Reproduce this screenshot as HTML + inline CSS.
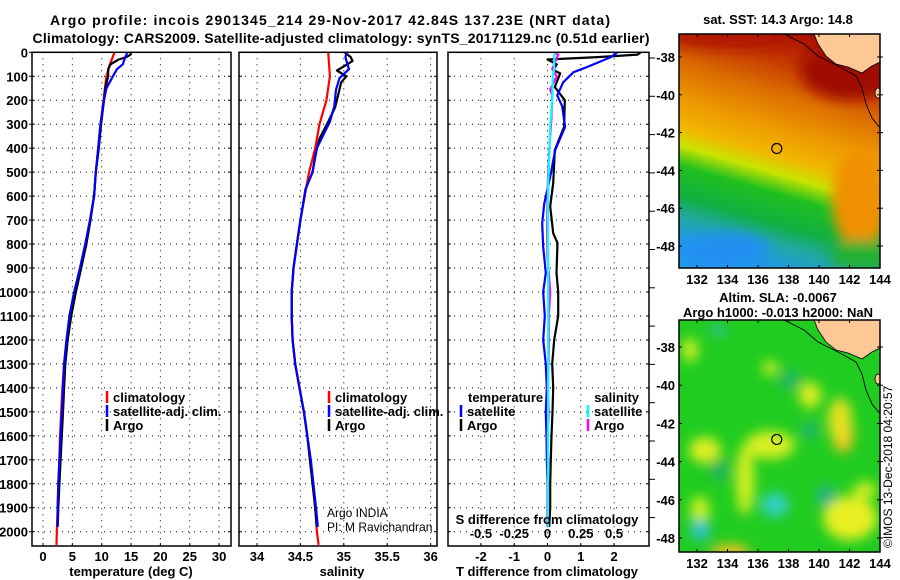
<!DOCTYPE html>
<html><head><meta charset="utf-8">
<style>
html,body{margin:0;padding:0;background:#fff;}
svg{display:block;font-family:"Liberation Sans",Arial,sans-serif;}
.b{font-weight:bold;font-size:13px;}
.t{font-weight:bold;font-size:14px;}
</style></head>
<body>
<svg id="fig" width="900" height="580" viewBox="0 0 900 580" xmlns="http://www.w3.org/2000/svg">
<defs>
 <linearGradient id="sstGrad" x1="0.65" y1="0" x2="0.4" y2="1">
  <stop offset="0" stop-color="#a80e00"/>
  <stop offset="0.12" stop-color="#c03000"/>
  <stop offset="0.28" stop-color="#dc7000"/>
  <stop offset="0.42" stop-color="#ee9a00"/>
  <stop offset="0.53" stop-color="#f0b800"/>
  <stop offset="0.6" stop-color="#c8e400"/>
  <stop offset="0.68" stop-color="#20c020"/>
  <stop offset="0.8" stop-color="#10b040"/>
  <stop offset="0.88" stop-color="#20a8a0"/>
  <stop offset="1" stop-color="#2098f0"/>
 </linearGradient>
 <filter id="blur6"><feGaussianBlur stdDeviation="6"/></filter>
 <clipPath id="clipTop"><rect x="679" y="34" width="201" height="234"/></clipPath>
 <clipPath id="clipBot"><rect x="679" y="320" width="201" height="232"/></clipPath>
</defs>
<text class="t" x="330" y="25" text-anchor="middle" textLength="560">Argo profile: incois 2901345_214 29-Nov-2017 42.84S 137.23E (NRT data)</text>
<text class="t" x="341" y="43" text-anchor="middle" textLength="617">Climatology: CARS2009. Satellite-adjusted climatology: synTS_20171129.nc (0.51d earlier)</text>
<g id="panels"></g>
<g id="maps"></g>
</svg>
<script>
// ---------- data ----------
const depthTicks = [0,100,200,300,400,500,600,700,800,900,1000,1100,1200,1300,1400,1500,1600,1700,1800,1900,2000];
const tempTicks = [0,5,10,15,20,25,30];
const salTicks = [34,34.5,35,35.5,36];
const salTickLabels = ["34","34.5","35","35.5","36"];
const tdiffTicks = [-2,-1,0,1,2];
const sdiffTicks = [-0.5,-0.25,0,0.25,0.5];
const sdiffTickLabels = ["-0.5","-0.25","0","0.25","0.5"];

const tClimDepth = [0,50,100,200,300,400,500,600,700,800,900,1000,1100,1200,1300,1400,1500,1600,1700,1800,1900,2000,2055];
const tClim      = [12.2,11.4,10.8,10.3,9.8,9.4,9.0,8.7,8.0,7.2,6.3,5.4,4.6,4.0,3.6,3.3,3.1,2.9,2.8,2.6,2.5,2.35,2.3];
const tArgoDepth = [0,10,20,30,50,70,100,150,200,300,400,500,600,700,800,900,1000,1100,1200,1300,1400,1500,1600,1700,1800,1900,1980];
const tArgo      = [15.0,14.9,14.2,12.9,11.5,11.1,11.1,10.6,10.4,9.9,9.5,9.0,8.7,8.1,7.4,6.5,5.6,4.8,4.2,3.8,3.6,3.4,3.2,3.0,2.8,2.6,2.5];
const tSatDepth  = [0,20,50,70,100,150,200,300,400,500,600,700,800,900,1000,1100,1200,1300,1400,1500,1600,1700,1800,1900,1980];
const tSat       = [14.4,14.0,13.6,12.6,11.9,10.8,10.4,9.8,9.4,9.0,8.7,8.0,7.2,6.3,5.3,4.5,4.0,3.6,3.4,3.2,3.0,2.8,2.6,2.5,2.45];

const sClimDepth = [0,100,200,300,400,500,600,700,800,900,1000,1100,1200,1300,1400,1500,1600,1700,1800,1900,2000,2055];
const sClim      = [34.82,34.84,34.80,34.72,34.67,34.60,34.55,34.50,34.46,34.42,34.40,34.40,34.41,34.44,34.49,34.54,34.58,34.61,34.64,34.67,34.69,34.71];
const sArgoDepth = [0,20,36,50,76,100,125,200,230,290,360,430,500,570,700,800,900,1000,1100,1200,1300,1400,1500,1600,1700,1800,1900,1980];
const sArgo      = [35.01,35.08,35.10,35.04,34.92,35.03,34.97,34.92,34.90,34.82,34.72,34.67,34.64,34.56,34.50,34.46,34.42,34.40,34.40,34.41,34.44,34.49,34.54,34.58,34.61,34.64,34.67,34.69];
const sSatDepth  = [0,20,49,70,108,156,225,290,333,400,500,570,700,800,900,1000,1100,1200,1300,1400,1500,1600,1700,1800,1900,1980];
const sSat       = [35.03,35.02,35.04,35.06,34.95,34.91,34.89,34.84,34.78,34.69,34.64,34.56,34.50,34.46,34.42,34.40,34.40,34.41,34.44,34.49,34.54,34.58,34.62,34.65,34.68,34.70];

const dTArgoDepth = [0,10,20,30,50,74,88,145,200,311,408,546,642,755,795,920,1000,1100,1200,1300,1400,1500,1600,1700,1800,1900,1980];
const dTArgo      = [2.8,2.7,1.5,0.0,0.28,0.17,0.38,0.22,0.52,0.50,0.22,0.17,0.08,0.17,0.30,0.27,0.32,0.32,0.20,0.14,0.17,0.15,0.12,0.10,0.08,0.08,0.05];
const dTSatDepth  = [0,20,61,83,125,180,225,311,408,520,632,715,812,920,1000,1100,1200,1300,1400,1500,1600,1700,1800,1900,1980];
const dTSat       = [2.1,1.9,1.2,0.78,0.47,0.29,0.44,0.53,0.23,0.08,-0.10,-0.16,-0.13,-0.05,-0.13,-0.08,-0.13,-0.05,-0.02,-0.05,-0.03,-0.02,0.0,0.0,0.0];
const dSArgoDepth = [0,10,30,70,100,155,180,270,408,500,600,730,850,960,1000,1100,1200,1300,1400,1500,1600,1700,1800,1900,1980];
const dSArgo      = [0.05,0.08,0.065,0.035,0.07,0.02,0.035,0.03,0.013,0.005,0.0,-0.003,0.0,0.015,0.02,0.01,0.01,0.008,0.0,0.01,0.0,0.005,0.0,0.0,0.0];
const dSSatDepth  = [0,15,65,100,200,311,450,550,700,900,1000,1200,1400,1600,1800,1980];
const dSSat       = [0.055,0.05,0.05,0.04,0.035,0.02,0.013,0.005,0.003,0.005,0.005,0.005,0.005,0.004,0.003,0.003];

const mapLonTicks = [132,134,136,138,140,142,144];
const mapLatTicks = [-38,-40,-42,-44,-46,-48];
const argoLon = 137.23, argoLat = -42.84;

// ---------- helpers ----------
const NS="http://www.w3.org/2000/svg";
const root=document.getElementById('panels');
const mroot=document.getElementById('maps');
function mk(tag,attrs,parent){const e=document.createElementNS(NS,tag);for(const k in attrs)e.setAttribute(k,attrs[k]);(parent||root).appendChild(e);return e;}
function txt(s,x,y,cls,anchor,parent){const e=mk('text',{x:x,y:y,class:cls||'b','text-anchor':anchor||'middle'},parent);e.textContent=s;return e;}
const TOP=52.3, KY=0.2397, BOT=546;
function yD(d){return TOP+d*KY;}
function xT(v){return 43+v*5.87;}
function xS(v){return 257+(v-34)*86.8;}
function xDT(v){return 547.5+v*33.3;}
function xDS(v){return 547.5+v*133.2;}

function panel(x0,x1,name){
  const g=mk('g',{});
  
  
  return g;
}
function frame(g,x0,x1){
  const r=mk('rect',{x:x0,y:TOP,width:x1-x0,height:BOT-TOP,fill:'none',stroke:'#000','stroke-width':1.5},g);
  
  
}
function gridY(g,x0,x1){
  depthTicks.forEach(d=>{const y=yD(d);
    if(d>0) mk('line',{x1:x0,x2:x1,y1:y,y2:y,stroke:'#000','stroke-dasharray':'1 5','stroke-width':1},g);
    mk('line',{x1:x0,x2:x0+3,y1:y,y2:y,stroke:'#000'},g);
    mk('line',{x1:x1-3,x2:x1,y1:y,y2:y,stroke:'#000'},g);
  });
}
function gridX(g,ticks,fx){
  ticks.forEach(v=>{const x=fx(v);
    mk('line',{x1:x,x2:x,y1:TOP,y2:BOT,stroke:'#000','stroke-dasharray':'1 5','stroke-width':1},g);
    mk('line',{x1:x,x2:x,y1:BOT-3,y2:BOT,stroke:'#000'},g);
  });
}
function series(g,depths,vals,fx,color,name){
  let d='';
  for(let i=0;i<depths.length;i++){d+=(i?'L':'M')+fx(vals[i]).toFixed(1)+' '+yD(depths[i]).toFixed(1);}
  const p=mk('path',{d:d,fill:'none',stroke:color,'stroke-width':2.2,'stroke-linejoin':'round'},g);
  
  
}
function legendItem(g,x,y,color,label,name){
  const gi=mk('g',{},g);
  
  
  mk('line',{x1:x,x2:x,y1:y-11,y2:y+1,stroke:color,'stroke-width':2.5},gi);
  txt(label,x+6,y,'b','start',gi);
}

// depth axis labels
const yax=mk('g',{});


depthTicks.forEach(d=>{txt(String(d),28,yD(d)+5,'b','end',yax);mk('line',{x1:29,x2:32,y1:yD(d),y2:yD(d),stroke:'#000'},yax);});

// Panel 1 temperature
let g1=panel(32,231,'temperature-panel');
gridX(g1,tempTicks,xT); gridY(g1,32,231);
series(g1,tClimDepth,tClim,xT,'#ff0000','temperature-climatology-line');
series(g1,tArgoDepth,tArgo,xT,'#000000','temperature-argo-line');
series(g1,tSatDepth,tSat,xT,'#0000ff','temperature-satellite-line');
frame(g1,32,231);
tempTicks.forEach(v=>txt(String(v),xT(v),561,'b','middle',g1));
const xt1=txt('temperature (deg C)',131,576,'b','middle',g1);


legendItem(g1,107,402,'#ff0000','climatology','legend-climatology');
legendItem(g1,107,416,'#0000ff','satellite-adj. clim.','legend-satellite');
legendItem(g1,107,430,'#000000','Argo','legend-argo');

// Panel 2 salinity
let g2=panel(239,437,'salinity-panel');
gridX(g2,salTicks,xS); gridY(g2,239,437);
series(g2,sClimDepth,sClim,xS,'#ff0000','salinity-climatology-line');
series(g2,sArgoDepth,sArgo,xS,'#000000','salinity-argo-line');
series(g2,sSatDepth,sSat,xS,'#0000ff','salinity-satellite-line');
frame(g2,239,437);
salTicks.forEach((v,i)=>txt(salTickLabels[i],xS(v),561,'b','middle',g2));
const xt2=txt('salinity',342,576,'b','middle',g2);


legendItem(g2,329,402,'#ff0000','climatology','legend-climatology-2');
legendItem(g2,329,416,'#0000ff','satellite-adj. clim.','legend-satellite-2');
legendItem(g2,329,430,'#000000','Argo','legend-argo-2');
const cr=mk('text',{x:327,y:517,'font-size':'12','text-anchor':'start'},g2);cr.textContent='Argo INDIA';


const pi=mk('text',{x:327,y:531,'font-size':'12','text-anchor':'start'},g2);pi.textContent='PI: M Ravichandran';



// Panel 3 differences
let g3=panel(448,649,'difference-panel');
gridX(g3,tdiffTicks,xDT); gridY(g3,448,649);
for(let y=58;y<BOT;y+=38.3){mk('line',{x1:649,x2:655,y1:y,y2:y,stroke:'#000'},g3);}
series(g3,dTArgoDepth,dTArgo,xDT,'#000000','tdiff-argo-line');
series(g3,dTSatDepth,dTSat,xDT,'#0000ff','tdiff-satellite-line');
series(g3,dSArgoDepth,dSArgo,xDS,'#ff00ff','sdiff-argo-line');
series(g3,dSSatDepth,dSSat,xDS,'#00ffff','sdiff-satellite-line');
frame(g3,448,649);
tdiffTicks.forEach(v=>txt(String(v),xDT(v),561,'b','middle',g3));
sdiffTicks.forEach((v,i)=>txt(sdiffTickLabels[i],xDS(v),538,'b','middle',g3));
const st=txt('S difference from climatology',547,524,'b','middle',g3);


const tt=txt('T difference from climatology',547,576,'b','middle',g3);


txt('temperature',468,402,'b','start',g3);
legendItem(g3,461,416,'#0000ff','satellite','legend-t-satellite');
legendItem(g3,461,430,'#000000','Argo','legend-t-argo');
txt('salinity',639,402,'b','end',g3);
legendItem(g3,588,416,'#00ffff','satellite','legend-s-satellite');
legendItem(g3,588,430,'#ff00ff','Argo','legend-s-argo');

// ---------- maps ----------
const MX0=679,MX1=880;
function mxLon(l){return 697+(l-132)*15.25;}
function mapAxes(g,yLat,y0,y1){
  mk('rect',{x:MX0,y:y0,width:MX1-MX0,height:y1-y0,fill:'none',stroke:'#000','stroke-width':1.5},g);
  mapLonTicks.forEach(l=>{const x=mxLon(l);mk('line',{x1:x,x2:x,y1:y0,y2:y0+3,stroke:'#000'},g);mk('line',{x1:x,x2:x,y1:y1-3,y2:y1,stroke:'#000'},g);txt(String(l),x,y1+16,'b','middle',g);});
  mapLatTicks.forEach(la=>{const y=yLat(la);mk('line',{x1:MX0,x2:MX0+3,y1:y,y2:y,stroke:'#000'},g);mk('line',{x1:MX1-3,x2:MX1+3,y1:y,y2:y,stroke:'#000'},g);txt(String(la),675,y+5,'b','end',g);});
  mk('circle',{cx:mxLon(argoLon),cy:yLat(argoLat),r:5,fill:'none',stroke:'#000','stroke-width':1.2},g);
}
function land(g,dy){
  mk('path',{d:`M814 ${34+dy} L880 ${34+dy} L880 ${62+dy} L872 ${66+dy} L862 ${73+dy} L848 ${67+dy} L836 ${64+dy} L826 ${56+dy} L818 ${44+dy} Z`,fill:'#fcc896'},g);
  mk('ellipse',{cx:878,cy:93+dy,rx:3,ry:5,fill:'#fcc896',stroke:'#000','stroke-width':0.8},g);
  mk('path',{d:`M784 ${34+dy} L804 ${44+dy} L818 ${56+dy} L840 ${67+dy} L856 ${76+dy} L862 ${88+dy} L866 ${104+dy} L872 ${118+dy} L880 ${128+dy}`,fill:'none',stroke:'#000','stroke-width':0.9},g);
  mk('path',{d:`M814 ${34+dy} L818 ${44+dy} L826 ${56+dy} L836 ${64+dy} L848 ${67+dy} L862 ${73+dy} L872 ${66+dy} L880 ${62+dy}`,fill:'none',stroke:'#000','stroke-width':0.8},g);
}
// top map
const gm1=mk('g',{},mroot);


txt('sat. SST: 14.3 Argo: 14.8',778,24,'b','middle',gm1);
const gc1=mk('g',{'clip-path':'url(#clipTop)'},gm1);
mk('rect',{x:MX0,y:34,width:201,height:234,fill:'url(#sstGrad)'},gc1);
const bl1=mk('g',{filter:'url(#blur6)'},gc1);
mk('ellipse',{cx:860,cy:200,rx:28,ry:50,fill:'#f09000'},bl1);
mk('ellipse',{cx:850,cy:70,rx:50,ry:30,fill:'#a00800'},bl1);
mk('ellipse',{cx:730,cy:38,rx:60,ry:10,fill:'#b01800'},bl1);
mk('ellipse',{cx:725,cy:250,rx:45,ry:18,fill:'#2090f0'},bl1);
mk('ellipse',{cx:860,cy:255,rx:30,ry:15,fill:'#20b030'},bl1);
land(gc1,0);
mapAxes(gm1,la=>57+(-38-la)*18.9,34,268);
// bottom map
const gm2=mk('g',{},mroot);


txt('Altim. SLA: -0.0067',778,302,'b','middle',gm2);
txt('Argo h1000: -0.013 h2000: NaN',778,317,'b','middle',gm2);
const gc2=mk('g',{'clip-path':'url(#clipBot)'},gm2);
mk('rect',{x:MX0,y:320,width:201,height:232,fill:'#20cc20'},gc2);
const bl2=mk('g',{filter:'url(#blur6)'},gc2);
[[705,450,16,13,'#e0f020'],[770,445,25,14,'#d8f020'],[843,435,11,18,'#f0c020'],[810,395,11,13,'#e0f020'],[690,350,8,12,'#d0f020'],[770,368,8,7,'#d0f020'],[745,480,9,35,'#d8f020'],[850,518,27,22,'#e8f020'],[730,552,20,8,'#f0c020'],[865,490,12,8,'#d8f020'],[840,420,12,22,'#e8e020'],[700,510,10,14,'#c8f020']].forEach(a=>mk('ellipse',{cx:a[0],cy:a[1],rx:a[2],ry:a[3],fill:a[4]},bl2));
[[700,530,10,10,'#30c0d8'],[775,505,14,12,'#30d0c8'],[718,330,8,6,'#30c0a0'],[826,496,10,10,'#20b090'],[810,430,8,8,'#20b080'],[720,470,10,10,'#20b060'],[790,380,12,10,'#20b860']].forEach(a=>mk('ellipse',{cx:a[0],cy:a[1],rx:a[2],ry:a[3],fill:a[4]},bl2));
land(gc2,286);
mapAxes(gm2,la=>347+(-38-la)*19.1,320,552);
const cp=mk('text',{x:0,y:0,'font-size':'12',transform:'translate(892,548) rotate(-90)','text-anchor':'start'},mroot);
cp.textContent='©IMOS 13-Dec-2018 04:20:57';


</script>
</body></html>
